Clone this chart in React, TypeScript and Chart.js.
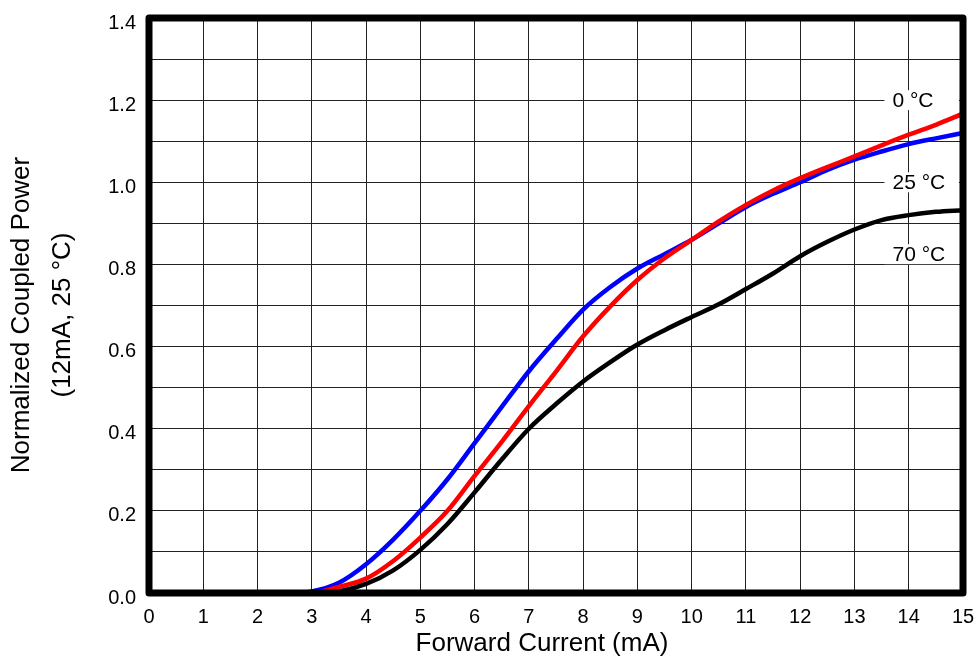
import React, { useEffect, useRef } from "react";
import { Chart, registerables } from "chart.js";
Chart.register(...registerables);

// Forward current (mA)
const currents = [0, 1, 2, 2.5, 3, 3.5, 4, 4.5, 5, 5.5, 6, 6.5, 7, 7.5, 8, 8.5, 9, 9.5, 10, 10.5, 11, 11.5, 12, 12.5, 13, 13.5, 14, 14.5, 15];
// Normalized coupled power
const power0C = [0, 0, 0, 0, 0, 0.015, 0.035, 0.078, 0.135, 0.2, 0.285, 0.368, 0.455, 0.539, 0.625, 0.698, 0.762, 0.815, 0.86, 0.905, 0.945, 0.98, 1.01, 1.037, 1.063, 1.09, 1.116, 1.14, 1.167];
const power25C = [0, 0, 0, 0, 0.004, 0.025, 0.07, 0.13, 0.2, 0.277, 0.365, 0.453, 0.54, 0.617, 0.69, 0.745, 0.79, 0.825, 0.86, 0.9, 0.94, 0.972, 1.0, 1.03, 1.055, 1.075, 1.093, 1.107, 1.12];
const power70C = [0, 0, 0, 0, 0, 0.004, 0.022, 0.055, 0.105, 0.168, 0.245, 0.325, 0.4, 0.46, 0.515, 0.562, 0.605, 0.64, 0.672, 0.703, 0.74, 0.778, 0.82, 0.855, 0.885, 0.908, 0.92, 0.928, 0.932];

const seriesLabels = ["0 °C", "25 °C", "70 °C"];
const seriesLabelY = [1.2, 1.0, 0.825];
const seriesLabelX = 13.7;

const xTitle = "Forward Current (mA)";
const yTitle = ["Normalized Coupled Power", "(12mA, 25 °C)"];

const FONT = "'Liberation Sans', Arial, Helvetica, sans-serif";

const toPoints = (ys: number[]) => currents.map((x, i) => ({ x, y: ys[i] }));

const framePlugin = {
  id: "frame",
  afterDatasetsDraw(chart: any) {
    const { ctx, chartArea: a, scales } = chart;
    ctx.save();
    // series labels with white backing
    ctx.font = `21px ${FONT}`;
    ctx.textBaseline = "middle";
    ctx.textAlign = "left";
    seriesLabels.forEach((t, i) => {
      const x = scales.x.getPixelForValue(seriesLabelX);
      const y = scales.y.getPixelForValue(seriesLabelY[i]);
      ctx.fillStyle = "#fff";
      ctx.fillRect(x - 8, y - 10, a.right - (x - 8) - 4, 20);
      ctx.fillStyle = "#000";
      ctx.fillText(t, x, y + 1);
    });
    // thick frame
    ctx.strokeStyle = "#000";
    ctx.lineWidth = 7;
    ctx.lineJoin = "round";
    ctx.strokeRect(a.left, a.top, a.right - a.left, a.bottom - a.top);
    ctx.restore();
  },
  afterDraw(chart: any) {
    const { ctx } = chart;
    ctx.save();
    ctx.fillStyle = "#000";
    ctx.font = `26px ${FONT}`;
    ctx.textAlign = "center";
    ctx.textBaseline = "middle";
    ctx.fillText(xTitle, 542, 644);
    ctx.translate(0, 315);
    ctx.rotate(-Math.PI / 2);
    ctx.fillText(yTitle[0], 0, 22);
    ctx.fillText(yTitle[1], 0, 63);
    ctx.restore();
  },
};

export default function App() {
  const ref = useRef<HTMLCanvasElement>(null);
  useEffect(() => {
    document.body.style.margin = "0";
    const c = ref.current!;
    const common = { pointRadius: 0, borderWidth: 4.5, fill: false, cubicInterpolationMode: "monotone" as const, borderCapStyle: "round" as const };
    const chart = new Chart(c, {
      type: "line",
      data: {
        datasets: [
          { label: "70 °C", data: toPoints(power70C), borderColor: "#000000", ...common },
          { label: "0 °C", data: toPoints(power0C), borderColor: "#ff0000", ...common },
          { label: "25 °C", data: toPoints(power25C), borderColor: "#0000ff", ...common },
        ],
      },
      options: {
        animation: false,
        responsive: false,
        devicePixelRatio: 1,
        layout: { padding: { top: 18, right: 14, left: 0, bottom: 0 } },
        plugins: { legend: { display: false }, tooltip: { enabled: false } },
        scales: {
          x: {
            type: "linear",
            min: 0,
            max: 15,
            afterFit: (s: any) => { s.height = 66; },
            ticks: { stepSize: 1, color: "#000", font: { size: 20, family: FONT }, padding: 0, maxRotation: 0, autoSkip: false },
            grid: { color: "#222", lineWidth: 1, drawTicks: true, tickLength: 12, tickColor: "rgba(0,0,0,0)" },
            border: { display: false },
          },
          y: {
            min: 0,
            max: 1.4,
            afterFit: (s: any) => { s.width = 149; },
            ticks: {
              stepSize: 0.1,
              color: "#000",
              font: { size: 20, family: FONT },
              padding: 0,
              labelOffset: 5,
              autoSkip: false,
              callback: (v: any, i: number) => (i % 2 === 0 ? Number(v).toFixed(1) : ""),
            },
            grid: { color: "#222", lineWidth: 1, drawTicks: true, tickLength: 13, tickColor: "rgba(0,0,0,0)" },
            border: { display: false },
          },
        },
      },
      plugins: [framePlugin],
    });
    return () => chart.destroy();
  }, []);
  return (
    <div style={{ width: 977, height: 659, background: "#fff" }}>
      <canvas ref={ref} width={977} height={659} />
    </div>
  );
}
